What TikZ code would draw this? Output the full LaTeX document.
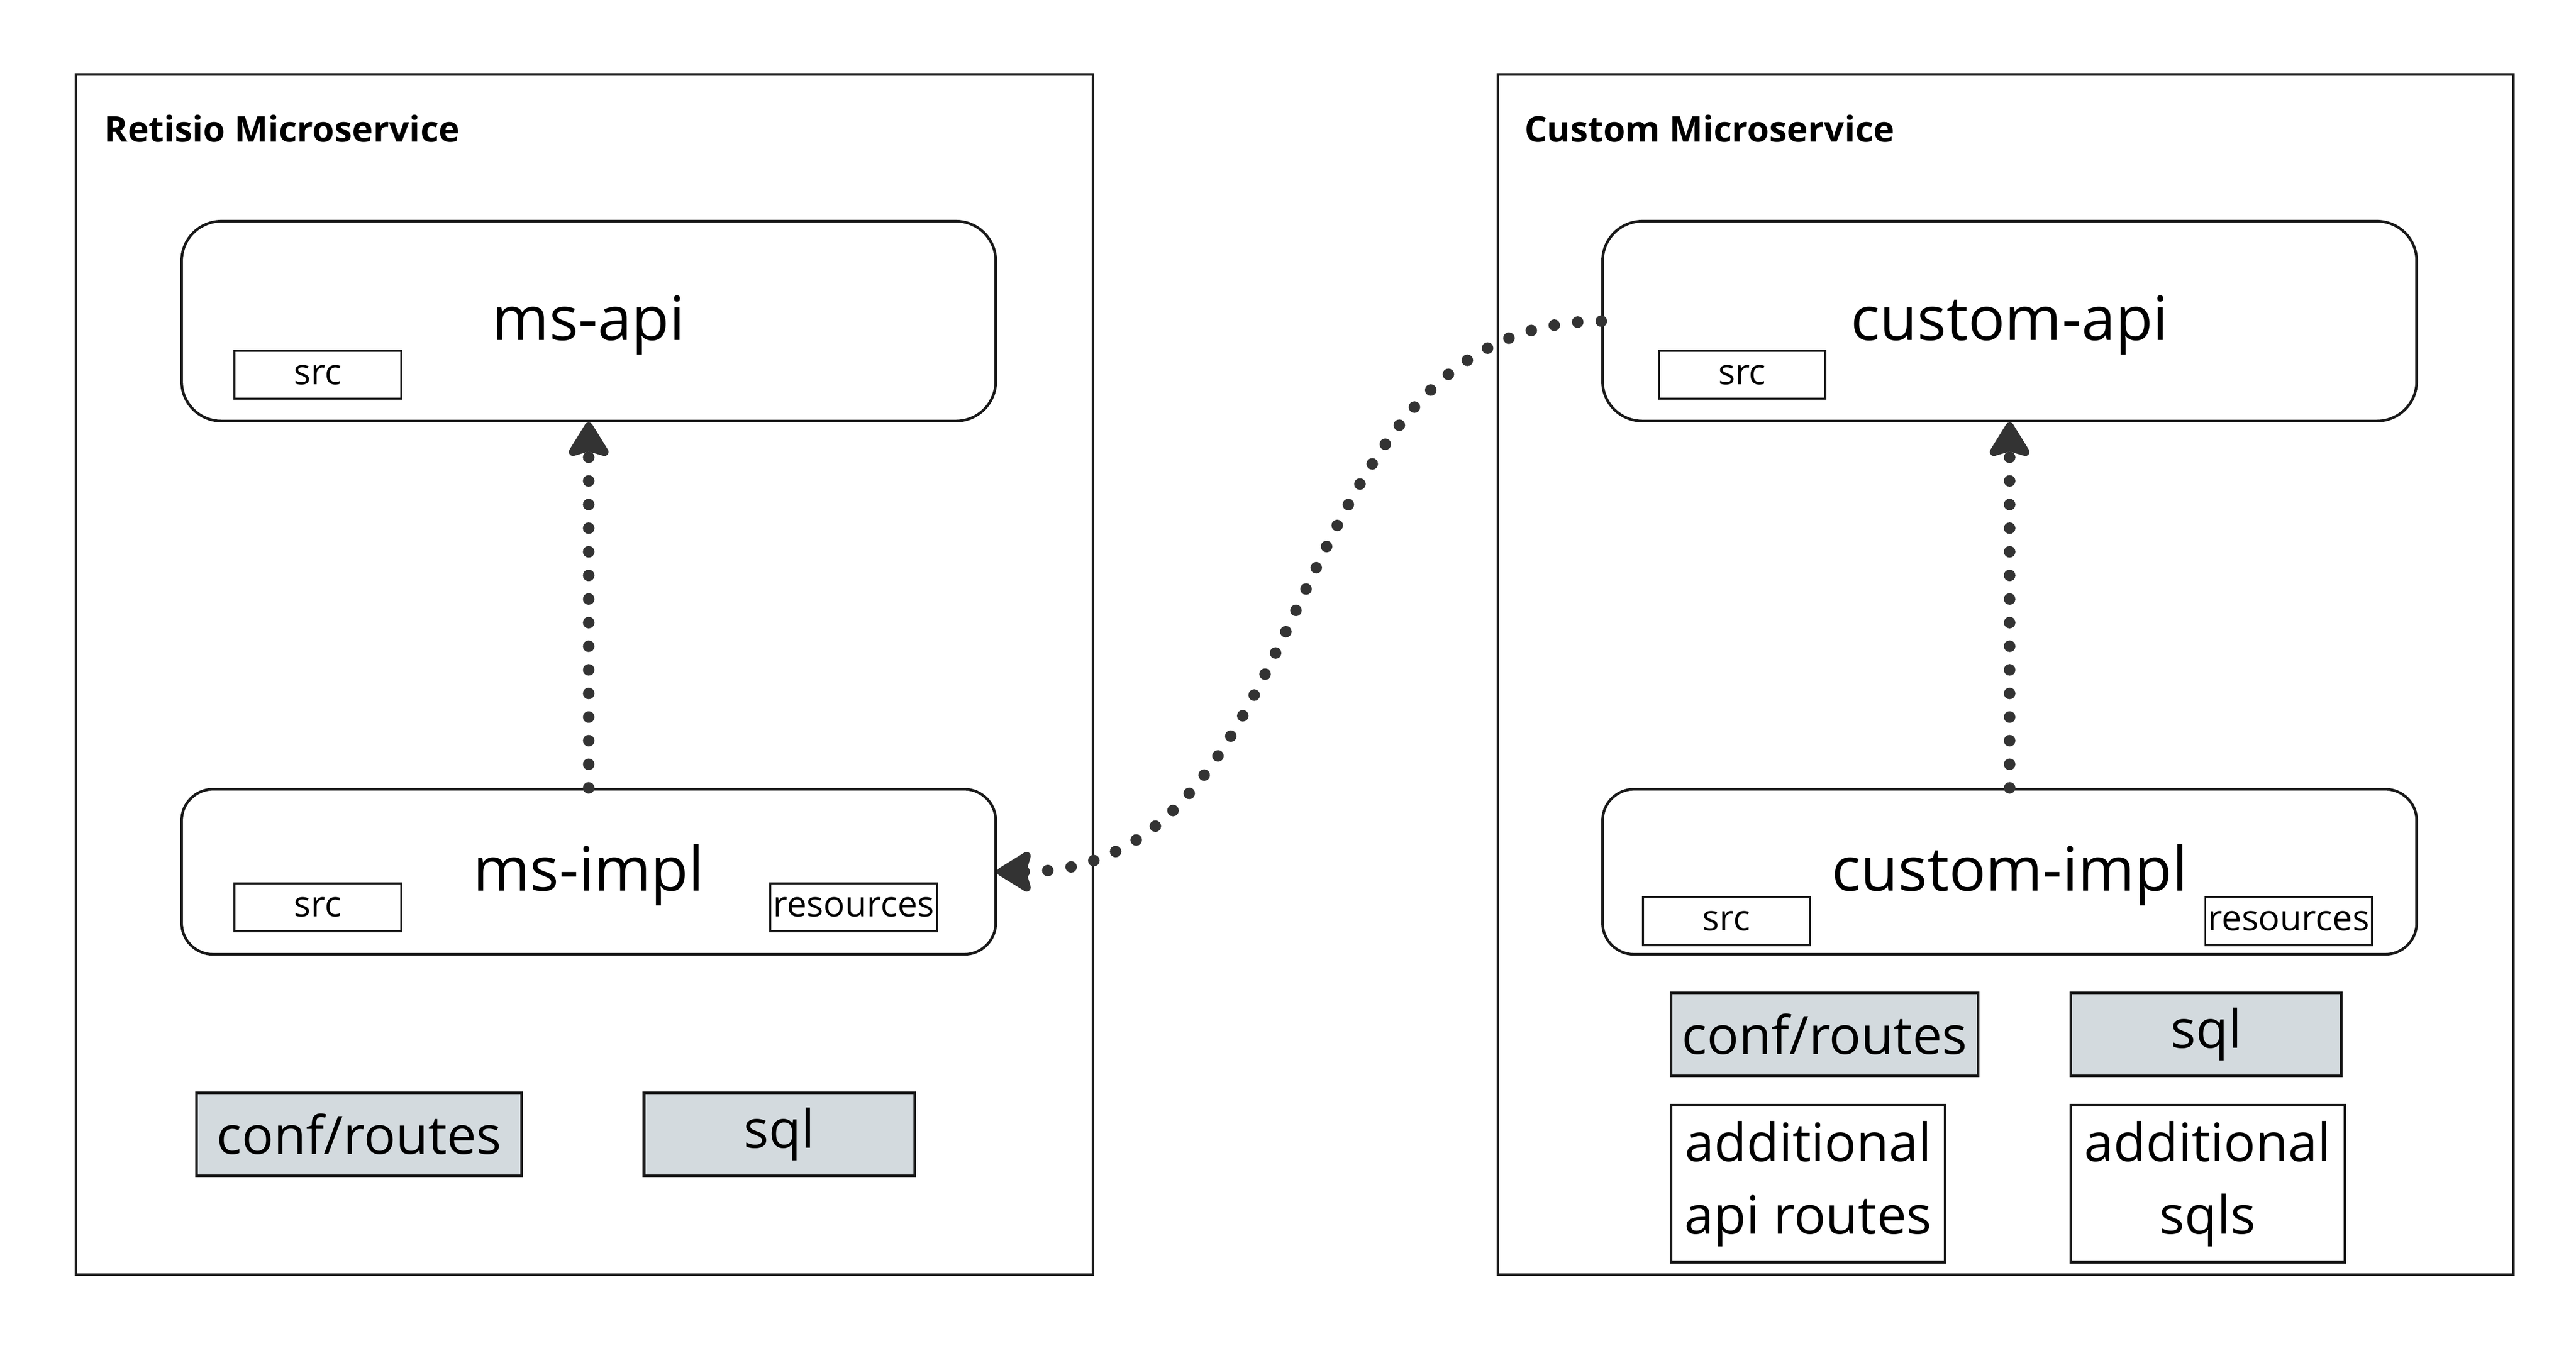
\documentclass[tikz,border=0pt]{standalone}
\usepackage{fontspec}
\setmainfont{Open Sans}
\usetikzlibrary{arrows.meta}
\definecolor{boxgray}{RGB}{211,218,222}
\definecolor{dotgray}{RGB}{51,51,51}
\begin{document}
\begin{tikzpicture}[x=1pt,y=-1pt]
			\tikzstyle{service box}=[draw=black!90,line width=1.6pt,inner sep=0]
			\tikzstyle{module box}=[draw=black!90,line width=1.6pt,inner sep=0,minimum width=493pt,font=\fontsize{37}{40}\selectfont]
			\tikzset{
				folder/.style={draw=black!90,line width=1.2pt,inner sep=0,minimum width=101pt,minimum height=29pt,font=\fontsize{21.5}{24}\selectfont},
				gray box/.style={draw=black!90,line width=1.6pt,fill=boxgray,inner sep=0,minimum height=50pt,font=\fontsize{32}{40}\selectfont},
				white box/.style={draw=black!90,line width=1.6pt,inner sep=0,align=center,minimum width=166pt,minimum height=95pt,font=\fontsize{32}{44}\selectfont},
				depends/.style={draw=dotgray,line width=7pt,line cap=round,dash pattern=on 0pt off 14.3pt,
					-{Stealth[length=24pt,width=29pt,inset=4pt,round]}}
			}
			\useasboundingbox (0,0) rectangle (1560,815);
			% Retisio Microservice
			\node(retisio)[service box,minimum width=616pt,minimum height=727pt] at (354,408.5){};
			\node(retisio label)[anchor=west,inner sep=0,font=\fontsize{21.5}{24}\bfseries] at (63,78){Retisio Microservice};
			\node(msapi)[module box,minimum height=121pt,rounded corners=24pt] at (356.5,194.5){};
			\node(msapi text)[font=\fontsize{37}{40}\selectfont] at (356.5,197){ms-api};
			\node(msapi src)[folder] at (192.5,227){src};
			\node(msimpl)[module box,minimum height=100pt,rounded corners=19pt] at (356.5,528){};
			\node(msimpl text)[font=\fontsize{37}{40}\selectfont] at (356.5,530){ms-impl};
			\node(msimpl src)[folder] at (192.5,549.5){src};
			\node(msimpl res)[folder] at (517,549.5){resources};
			\node(ms conf)[gray box,minimum width=197pt] at (217.5,687){conf/routes};
			\node(ms sql)[gray box,minimum width=164pt] at (472,687){sql};
			% Custom Microservice
			\node(custom)[service box,minimum width=615pt,minimum height=727pt] at (1214.5,408.5){};
			\node(custom label)[anchor=west,inner sep=0,font=\fontsize{21.5}{24}\bfseries] at (923,78){Custom Microservice};
			\node(capi)[module box,minimum height=121pt,rounded corners=24pt] at (1217,194.5){};
			\node(capi text)[font=\fontsize{37}{40}\selectfont] at (1217,197){custom-api};
			\node(capi src)[folder] at (1055,227){src};
			\node(cimpl)[module box,minimum height=100pt,rounded corners=19pt] at (1217,528){};
			\node(cimpl text)[font=\fontsize{37}{40}\selectfont] at (1217,530){custom-impl};
			\node(cimpl src)[folder] at (1045.5,558){src};
			\node(cimpl res)[folder] at (1386,558){resources};
			\node(c conf)[gray box,minimum width=186pt] at (1105,626.5){conf/routes};
			\node(c sql)[gray box,minimum width=164pt] at (1336,626.5){sql};
			\node(c routes)[white box] at (1095,717){additional\\api routes};
			\node(c sqls)[white box] at (1337,717){additional\\sqls};
			% dependencies
			\draw[depends] (msimpl.north) -- (msapi.south);
			\draw[depends] (cimpl.north) -- (capi.south);
			\draw[depends] (capi.west) .. controls +(-200,0) and +(200,0) .. (msimpl.east);
\end{tikzpicture}
\end{document}
